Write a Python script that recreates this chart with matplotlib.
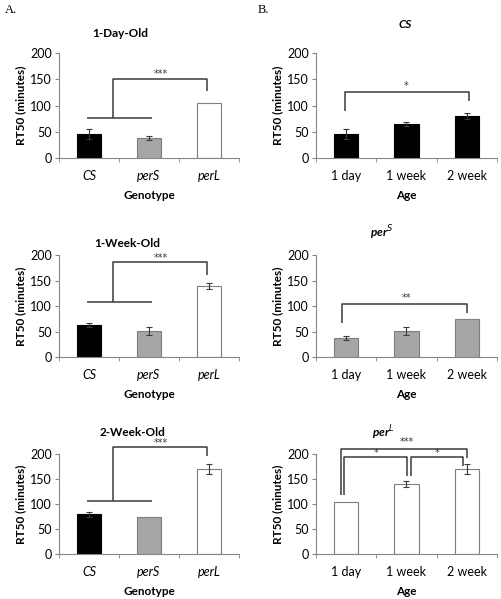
import matplotlib
matplotlib.use("Agg")
import matplotlib.pyplot as plt

plt.rcParams['font.family'] = ['Lato', 'DejaVu Sans']

genotypes = ['CS', 'perS', 'perL']
ages = ['1 day', '1 week', '2 week']

# RT50 per age (rows) and genotype (columns)
day1_mean = [45, 38, 105]
day1_err = [10, 4, 0]
week1_mean = [64, 52, 140]
week1_err = [4, 8, 6]
week2_mean = [80, 75, 170]
week2_err = [5, 0, 10]

fills = ['black', '#a6a6a6', 'white']
edges = ['black', '#7f7f7f', '#7f7f7f']

LINE = '#3a3a3a'
SPINE = '#868686'

fig = plt.figure(figsize=(5.02, 5.99), dpi=100)

rows = [(0.7367, 0.1743), (0.4035, 0.1703), (0.0746, 0.1670)]
left_x, left_w = 59 / 502, 180 / 502
right_x, right_w = 316 / 502, 181 / 502


def style(ax, labels, italic, xlabel):
    ax.set_xlim(-0.5, 2.5)
    ax.set_ylim(0, 200)
    ax.set_yticks([0, 50, 100, 150, 200])
    ax.set_xticks(range(3))
    ax.set_xticklabels(labels, fontsize=9, style='italic' if italic else 'normal')
    ax.set_xticks([-0.5, 0.5, 1.5, 2.5], minor=True)
    ax.tick_params(axis='x', which='major', length=0, pad=8.5)
    ax.tick_params(axis='x', which='minor', length=3, color=SPINE, direction='out')
    ax.tick_params(axis='y', length=3, color=SPINE, labelsize=9, pad=2)
    for s in ['top', 'right']:
        ax.spines[s].set_visible(False)
    for s in ['left', 'bottom']:
        ax.spines[s].set_color(SPINE)
        ax.spines[s].set_linewidth(0.8)
    ax.set_ylabel('RT50 (minutes)', fontsize=8.5, fontweight='bold', labelpad=3)
    ax.set_xlabel(xlabel, fontsize=8.5, fontweight='bold', labelpad=6)


def bars(ax, means, errs, colors, ecols):
    for i in range(3):
        ax.bar(i, means[i], width=0.4, color=colors[i], edgecolor=ecols[i], linewidth=0.8, zorder=2)
        if errs[i] > 0:
            ax.errorbar(i, means[i], yerr=errs[i], fmt='none', ecolor=LINE,
                        elinewidth=0.8, capsize=2.5, capthick=0.8, zorder=3)


def line(ax, xs, ys):
    ax.plot(xs, ys, color=LINE, lw=1.1, clip_on=False, zorder=4, solid_capstyle='butt')


def stars(ax, x, y, s):
    ax.text(x, y, s, ha='center', va='center', fontsize=7, color=LINE, clip_on=False,
            family='DejaVu Sans')


# ---- column A: by genotype
a_means = [day1_mean, week1_mean, week2_mean]
a_errs = [day1_err, week1_err, week2_err]
a_titles = ['1-Day-Old', '1-Week-Old', '2-Week-Old']
a_title_pos = [(0.34, 1.19), (0.38, 1.12), (0.41, 1.22)]
# bracket: base height, top height, right drop end, stars height
a_brk = [(77, 151, 128, 161), (109, 187, 161, 195), (107, 215, 197, 223)]

for r in range(3):
    ax = fig.add_axes([left_x, rows[r][0], left_w, rows[r][1]])
    bars(ax, a_means[r], a_errs[r], fills, edges)
    style(ax, genotypes, True, 'Genotype')
    tx, ty = a_title_pos[r]
    ax.text(tx, ty, a_titles[r], transform=ax.transAxes, ha='center', va='center',
            fontsize=8.5, fontweight='bold')
    base, top, drop, sy = a_brk[r]
    line(ax, [-0.03, 1.05], [base, base])
    line(ax, [0.4, 0.4, 1.97, 1.97], [base, top, top, drop])
    stars(ax, 1.2, sy, '***')

# ---- column B: by age
b_titles = ['CS', 'per$^{S}$', 'per$^{L}$']
b_title_pos = [(0.49, 1.28), (0.36, 1.22), (0.37, 1.22)]

for g in range(3):
    vals = [day1_mean[g], week1_mean[g], week2_mean[g]]
    errs = [day1_err[g], week1_err[g], week2_err[g]]
    ax = fig.add_axes([right_x, rows[g][0], right_w, rows[g][1]])
    bars(ax, vals, errs, [fills[g]] * 3, [edges[g]] * 3)
    style(ax, ages, False, 'Age')
    tx, ty = b_title_pos[g]
    ax.text(tx, ty, b_titles[g], transform=ax.transAxes, ha='center', va='center',
            fontsize=8.5, fontweight='bold', style='italic')
    if g == 0:
        line(ax, [-0.02, -0.02, 2.03, 2.03], [89, 126, 126, 108])
        stars(ax, 1.0, 138, '*')
    elif g == 1:
        line(ax, [-0.07, -0.07, 2.01, 2.01], [67, 104, 104, 87])
        stars(ax, 1.0, 117, '**')
    else:
        line(ax, [-0.09, -0.09, 2.0, 2.0], [118, 210, 210, 192])
        stars(ax, 1.0, 224, '***')
        line(ax, [-0.03, -0.03, 1.01, 1.01], [118, 194, 194, 157])
        stars(ax, 0.5, 202, '*')
        line(ax, [1.08, 1.08, 1.94, 1.94], [157, 194, 194, 177])
        stars(ax, 1.5, 202, '*')

fig.text(5 / 502, 1 - 10 / 599, 'A.', fontsize=9, family='Liberation Serif', va='center')
fig.text(258 / 502, 1 - 10 / 599, 'B.', fontsize=9, family='Liberation Serif', va='center')

fig.savefig('out.png', dpi=100)
